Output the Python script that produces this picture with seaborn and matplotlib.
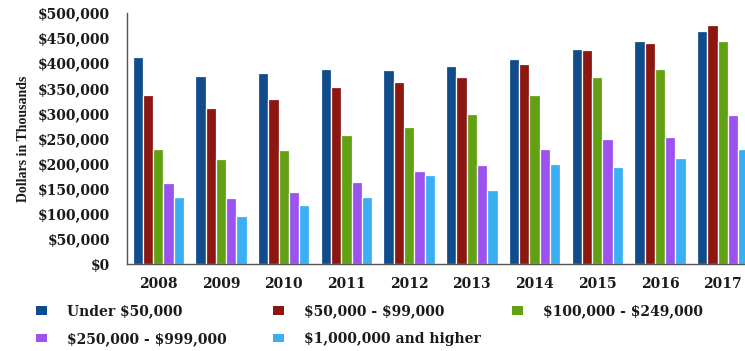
import matplotlib
matplotlib.use("Agg")
import matplotlib.pyplot as plt
from matplotlib.patches import Patch
from matplotlib.ticker import FuncFormatter, MultipleLocator
import seaborn as sns
import pandas as pd

years = ["2008", "2009", "2010", "2011", "2012", "2013", "2014", "2015", "2016", "2017"]
brackets = ["Under $50,000", "$50,000 - $99,000", "$100,000 - $249,000",
            "$250,000 - $999,000", "$1,000,000 and higher"]

under_50k = [412000, 374000, 380000, 388000, 386000, 394000, 408000, 428000, 444000, 464000]
k50_99 = [337000, 310000, 328000, 352000, 362000, 372000, 398000, 426000, 441000, 476000]
k100_249 = [229000, 209000, 228000, 256000, 272000, 299000, 337000, 373000, 388000, 444000]
k250_999 = [162000, 131000, 143000, 164000, 185000, 197000, 229000, 250000, 252000, 297000]
m1_plus = [133000, 96000, 117000, 133000, 177000, 147000, 199000, 194000, 212000, 229000]

colors = ["#104c8c", "#8c1610", "#62a014", "#9b52ee", "#3aaff4"]

series = [under_50k, k50_99, k100_249, k250_999, m1_plus]
df = pd.DataFrame({
    "Year": [y for s in series for y in years],
    "Bracket": [b for b, s in zip(brackets, series) for _ in s],
    "Value": [v for s in series for v in s],
})

sns.set_style("white")
plt.rcParams["font.family"] = ["DejaVu Serif"]
plt.rcParams["font.weight"] = "bold"
plt.rcParams["text.parse_math"] = False

W, H = 745, 351
fig = plt.figure(figsize=(W / 100, H / 100), dpi=100)
ax = fig.add_axes([127 / W, (H - 264) / H, 627 / W, 251 / H])

sns.barplot(data=df, x="Year", y="Value", hue="Bracket", hue_order=brackets,
            order=years, palette=colors, width=0.82, edgecolor="white",
            linewidth=0.9, saturation=1, legend=False, ax=ax)

ax.set_xlim(-0.5, 9.5)
ax.set_ylim(0, 500000)
ax.yaxis.set_major_locator(MultipleLocator(50000))
ax.yaxis.set_major_formatter(FuncFormatter(lambda v, _: f"${int(v):,}"))
ax.tick_params(axis="both", length=0, labelsize=10, colors="#1a1a1a")
ax.tick_params(axis="y", pad=12)
ax.tick_params(axis="x", pad=9)
for lab in ax.get_xticklabels() + ax.get_yticklabels():
    lab.set_fontweight("bold")

ax.set_xlabel("")
ax.set_ylabel("Dollars in Thousands", fontsize=10, fontweight="bold",
              family="Liberation Serif", labelpad=6, color="#1a1a1a")

for side in ("top", "right"):
    ax.spines[side].set_visible(False)
for side in ("left", "bottom"):
    ax.spines[side].set_color("#555555")
    ax.spines[side].set_linewidth(1.0)

# legend laid out as three columns below the axes
handles = [Patch(facecolor=c, edgecolor="none") for c in colors]
columns = [([0, 3], 36), ([1, 4], 273), ([2], 512)]
for idx, x_px in columns:
    leg = fig.legend([handles[i] for i in idx], [brackets[i] for i in idx],
                     loc="upper left", bbox_to_anchor=(x_px / W, 1 - 304 / H),
                     frameon=False, borderpad=0, borderaxespad=0,
                     handlelength=0.8, handleheight=0.6, handletextpad=1.45,
                     labelspacing=1.0, prop={"family": "DejaVu Serif",
                                             "weight": "bold", "size": 10})
    for t in leg.get_texts():
        t.set_color("#1a1a1a")

fig.savefig("out.png", dpi=100)
